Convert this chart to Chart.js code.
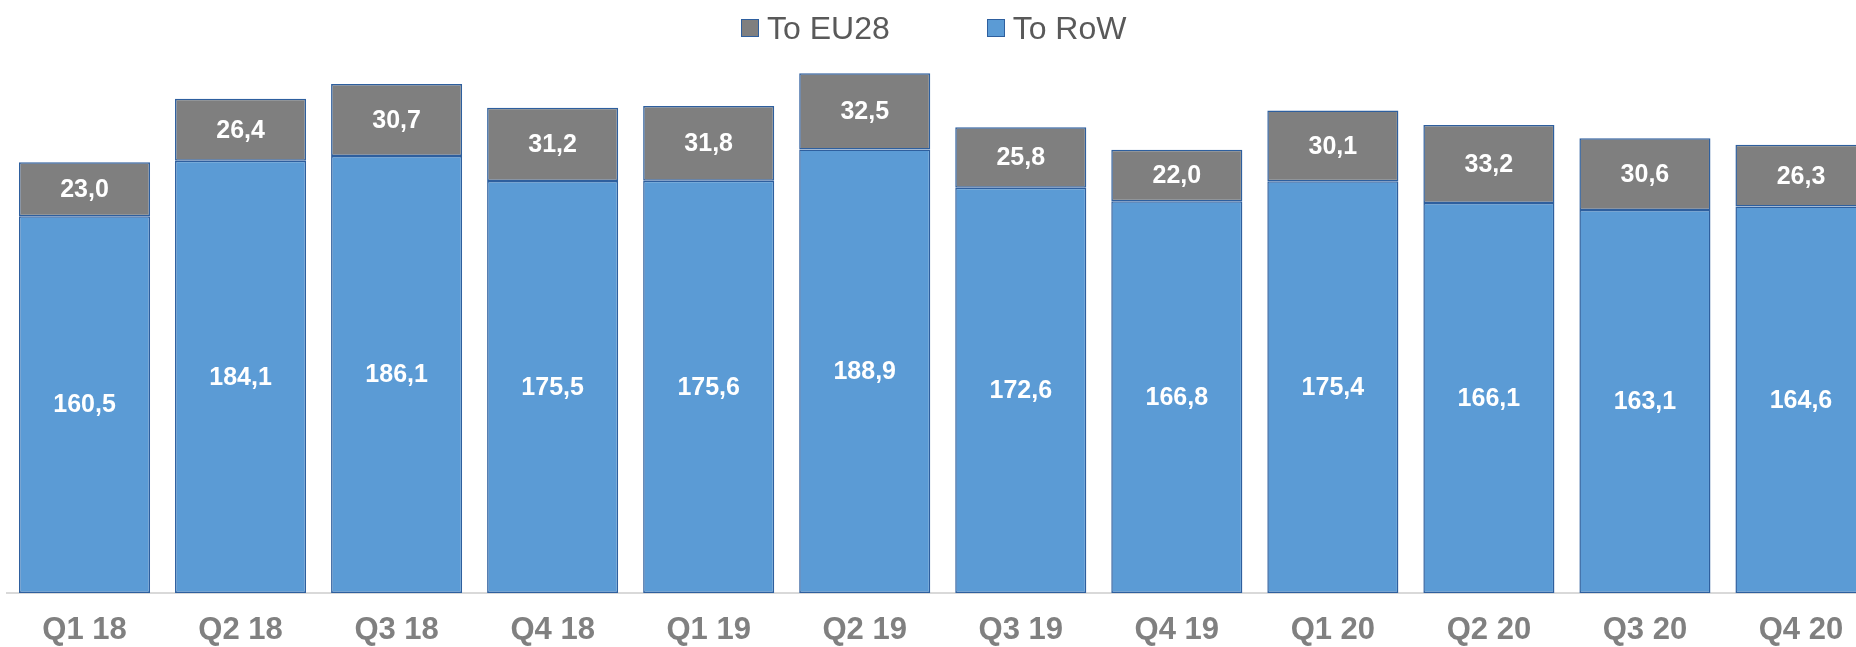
<!DOCTYPE html>
<html>
<head>
<meta charset="utf-8">
<script src="https://cdn.jsdelivr.net/npm/chart.js@4/dist/chart.umd.min.js"></script>
<style>
  html, body { margin: 0; padding: 0; background: #fff; overflow: hidden; }
  #wrap { position: relative; width: 1856px; height: 647px; overflow: hidden; }
  #legend { position: absolute; top: 8px; left: 741px; font-family: "Liberation Sans", Arial, sans-serif;
            font-size: 32px; color: #595959; white-space: nowrap; }
  #legend span.item { display: inline-flex; align-items: center; }
  #legend span.box { display: inline-block; width: 16px; height: 16px; border: 1.5px solid #2e5f9e; margin-right: 8px; }
  #chart { position: absolute; left: 0; top: 0; }
</style>
</head>
<body>
<div id="wrap">
  <canvas id="chart" width="1879" height="647"></canvas>
  <div id="legend">
    <span class="item"><span class="box" style="background:#7f7f7f"></span>To EU28</span>
    <span class="item" style="margin-left:88px"><span class="box" style="background:#5b9bd5"></span>To RoW</span>
  </div>
</div>
<script>
var quarters = ['Q1 18', 'Q2 18', 'Q3 18', 'Q4 18', 'Q1 19', 'Q2 19', 'Q3 19', 'Q4 19', 'Q1 20', 'Q2 20', 'Q3 20', 'Q4 20'];
var toEU28 = [23.0, 26.4, 30.7, 31.2, 31.8, 32.5, 25.8, 22.0, 30.1, 33.2, 30.6, 26.3];
var toRoW = [160.5, 184.1, 186.1, 175.5, 175.6, 188.9, 172.6, 166.8, 175.4, 166.1, 163.1, 164.6];

// white value labels in the middle of each segment
var barLabels = {
    id: 'barLabels',
    afterDatasetsDraw: function(chart) {
        var ctx = chart.ctx;
        ctx.save();
        ctx.fillStyle = '#ffffff';
        ctx.font = 'bold 25px "Liberation Sans", Arial, sans-serif';
        ctx.textAlign = 'center';
        ctx.textBaseline = 'middle';
        chart.data.datasets.forEach(function(ds, i) {
            chart.getDatasetMeta(i).data.forEach(function(bar, j) {
                var mid = (bar.y + bar.base) / 2;
                ctx.fillText(ds.data[j].toFixed(1).replace('.', ','), bar.x, mid + 1);
            });
        });
        ctx.restore();
    }
};

var ctx = document.getElementById('chart').getContext('2d');
var chart = new Chart(ctx, {
    type: 'bar',
    data: {
        labels: quarters,
        datasets: [{
            label: 'To RoW',
            backgroundColor: '#5b9bd5',
            borderColor: '#2e5f9e',
            borderWidth: 1.5,
            borderSkipped: false,
            data: toRoW
        }, {
            label: 'To EU28',
            backgroundColor: '#7f7f7f',
            borderColor: '#2e5f9e',
            borderWidth: 1.5,
            borderSkipped: false,
            data: toEU28
        }]
    },
    options: {
        responsive: false,
        animation: false,
        layout: { padding: { left: 6.5, right: 0, top: 60, bottom: 0 } },
        datasets: { bar: { barPercentage: 0.84, categoryPercentage: 1 } },
        plugins: { legend: { display: false }, tooltip: { enabled: false } },
        scales: {
            x: {
                stacked: true,
                grid: { display: false, drawTicks: false },
                border: { display: true, color: '#d9d9d9', width: 2 },
                afterFit: function(scale) { scale.height = 54; },
                ticks: {
                    autoSkip: false,
                    maxRotation: 0,
                    padding: 22,
                    color: '#808080',
                    font: { family: '"Liberation Sans", Arial, sans-serif', size: 31, weight: 'bold', lineHeight: 1 }
                }
            },
            y: {
                stacked: true,
                display: false,
                min: 0,
                max: 227
            }
        }
    },
    plugins: [barLabels]
});
</script>
</body>
</html>
